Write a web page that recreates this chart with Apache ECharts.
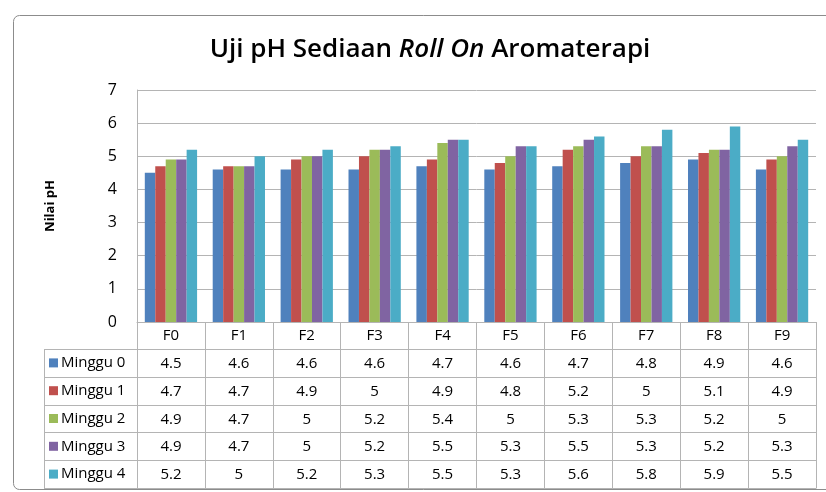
<!DOCTYPE html>
<html><head><meta charset="utf-8">
<script src="https://cdn.jsdelivr.net/npm/echarts@6/dist/echarts.min.js"></script>
<style>html,body{margin:0;padding:0;background:#fff}#c{width:826px;height:492px}</style>
</head><body><div id="c"></div>
<script>
const categories = ['F0','F1','F2','F3','F4','F5','F6','F7','F8','F9'];
const seriesNames = ['Minggu 0','Minggu 1','Minggu 2','Minggu 3','Minggu 4'];
const minggu0 = [4.5,4.6,4.6,4.6,4.7,4.6,4.7,4.8,4.9,4.6];
const minggu1 = [4.7,4.7,4.9,5,4.9,4.8,5.2,5,5.1,4.9];
const minggu2 = [4.9,4.7,5,5.2,5.4,5,5.3,5.3,5.2,5];
const minggu3 = [4.9,4.7,5,5.2,5.5,5.3,5.5,5.3,5.2,5.3];
const minggu4 = [5.2,5,5.2,5.3,5.5,5.3,5.6,5.8,5.9,5.5];
const yTicks = [0,1,2,3,4,5,6,7];
const allSeries = [minggu0,minggu1,minggu2,minggu3,minggu4];
const colors = ['#4F81BD','#C0504D','#9BBB59','#8064A2','#4BACC6'];

const FONT = '"Open Sans", "Noto Sans", sans-serif';
const gridL = 137, gridR = 10, gridT = 90, gridB = 170;
const rowH = 27.8;
const lineColor = '#b4b4b4';
const tableTop = 349, tableBottom = 488, tableLeft = 44, tableRight = 816;

const chart = echarts.init(document.getElementById('c'), null, {renderer:'canvas'});

const hLines = [];
for (let i = 0; i <= 5; i++) {
  const y = Math.round(tableTop + i * (tableBottom - tableTop) / 5) + 0.5;
  hLines.push({type:'line', shape:{x1:tableLeft, y1:y, x2:tableRight, y2:y}, style:{stroke:lineColor, lineWidth:1}, z:10});
}
hLines.push({type:'line', shape:{x1:tableLeft+0.5, y1:tableTop, x2:tableLeft+0.5, y2:tableBottom+0.5}, style:{stroke:lineColor, lineWidth:1}, z:10});
hLines.push({type:'line', shape:{x1:tableRight+0.5, y1:322, x2:tableRight+0.5, y2:tableBottom+0.5}, style:{stroke:lineColor, lineWidth:1}, z:10});
// chart frame
hLines.push({type:'rect', shape:{x:13.5, y:15.5, width:830, height:474, r:6}, style:{fill:null, stroke:'#8c8c8c', lineWidth:1}, z:0});

const option = {
  backgroundColor:'#fff',
  animation:false,
  title:{
    text:'{n|Uji pH Sediaan }{i|Roll On}{n| Aromaterapi}',
    left: 425, textAlign:'center', top:32,
    textStyle:{ rich:{
      n:{fontFamily:FONT, fontSize:26, color:'#000', fontWeight:'600'},
      i:{fontFamily:FONT, fontSize:26, color:'#000', fontWeight:'600', fontStyle:'italic'}
    }}
  },
  legend:{
    orient:'vertical', left:49, top:tableTop, padding:0, itemGap:0,
    itemWidth:9, itemHeight:9, icon:'rect',
    data: seriesNames,
    textStyle:{fontFamily:FONT, fontSize:15, color:'#000', lineHeight:rowH, padding:[0,0,0,-2]},
    selectedMode:false
  },
  grid:{left:gridL, right:gridR, top:gridT, bottom:gridB, containLabel:false},
  xAxis:{
    type:'category', data:categories,
    axisLine:{show:true, lineStyle:{color:lineColor}},
    axisTick:{show:true, length:166, lineStyle:{color:lineColor}},
    axisLabel:{
      margin:0, interval:0,
      fontFamily:FONT, fontSize:15, color:'#000', lineHeight:rowH,
      formatter:function(v, idx){
        const lines=[v];
        allSeries.forEach(s=>lines.push(String(s[idx])));
        return lines.join('\n');
      }
    }
  },
  yAxis:{
    type:'value', min:0, max:7, interval:1,
    name:'Nilai pH', nameLocation:'middle', nameGap:80, nameRotate:90,
    nameTextStyle:{fontFamily:FONT, fontSize:13, fontWeight:'bold', color:'#000'},
    axisLine:{show:true, lineStyle:{color:lineColor}},
    axisTick:{show:false},
    axisLabel:{fontFamily:FONT, fontSize:16, color:'#000', margin:20,
      formatter:v=> yTicks.includes(v) ? String(v) : ''},
    splitLine:{lineStyle:{color:lineColor}}
  },
  series: allSeries.map((d,i)=>({
    name:seriesNames[i], type:'bar', data:d, barGap:'0%', barCategoryGap:'23%',
    itemStyle:{color:colors[i]}
  })),
  graphic: hLines
};
chart.setOption(option);
</script></body></html>
